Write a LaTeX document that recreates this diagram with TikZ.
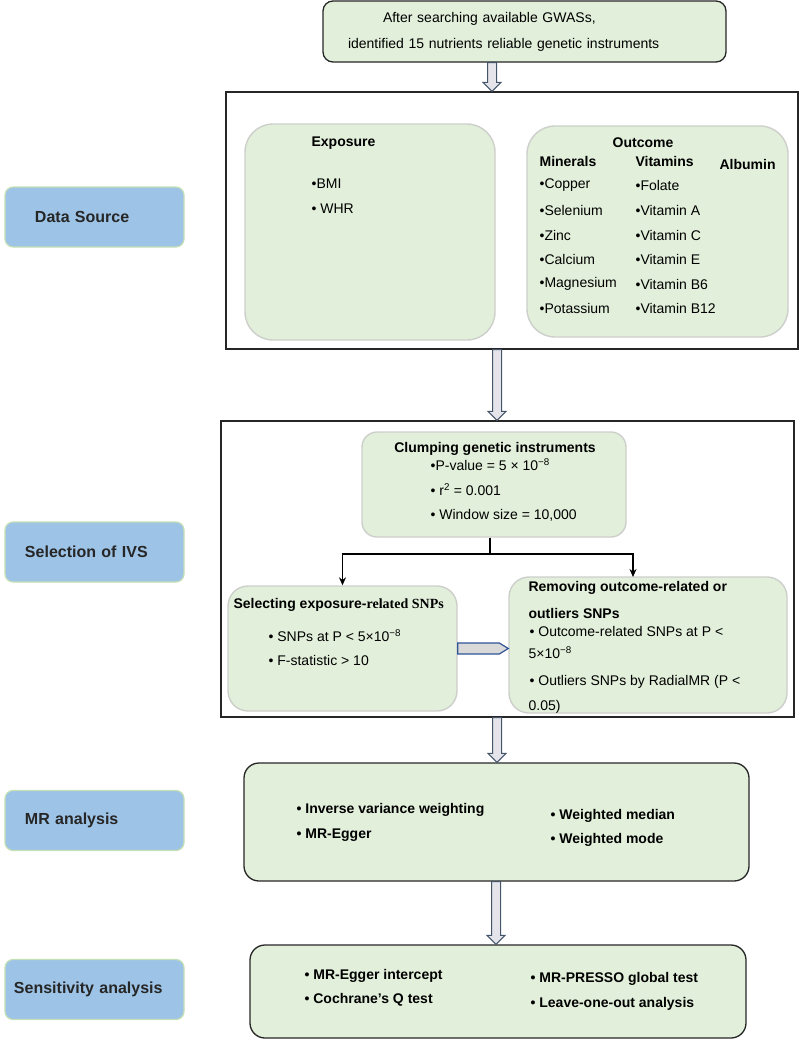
\documentclass[tikz,border=0pt]{standalone}
\usepackage{fontspec}
\setmainfont{Liberation Sans}
\newfontfamily\serifpart{Liberation Serif}
\usetikzlibrary{arrows.meta,calc}

\definecolor{boxgreen}{HTML}{E2EFDA}
\definecolor{sideblue}{HTML}{9DC3E6}
\definecolor{sideline}{HTML}{C5E0B4}
\definecolor{softline}{HTML}{CDCFCB}
\definecolor{arrowline}{HTML}{44546A}
\definecolor{arrowfill}{HTML}{E4E4EA}
\definecolor{pushline}{HTML}{2F5597}
\definecolor{labeltext}{HTML}{262626}

\newcommand{\fatdown}[2]{%
  \draw [fatarrow] let \p1 = (#1), \p2 = (#2) in
    (\x1-4.5pt,\y1) -- (\x1+4.5pt,\y1) -- (\x1+4.5pt,\y2+9pt) -- (\x1+9pt,\y2+9pt)
    -- (\x1,\y2) -- (\x1-9pt,\y2+9pt) -- (\x1-4.5pt,\y2+9pt) -- cycle;}
\newcommand{\fatright}[2]{%
  \draw [pusharrow] let \p1 = (#1), \p2 = (#2) in
    (\x1,\y1+5.5pt) -- (\x2-9pt,\y1+5.5pt) -- (\x2,\y1) -- (\x2-9pt,\y1-5.5pt)
    -- (\x1,\y1-5.5pt) -- cycle;}

\begin{document}
\begin{tikzpicture}[x = 1pt, y = -1pt, line width = 1.2pt, >={Stealth[length=8pt,width=7pt]},
    every node/.style = {font = \fontsize{14}{17}\selectfont},
    sidebox/.style = {draw = sideline, fill = sideblue, rounded corners = 8pt, minimum width = 179pt,
                      minimum height = 60pt, text width = 179pt, inner xsep = 0pt, align = left,
                      text = labeltext, font = \fontsize{16}{19}\selectfont\bfseries},
    frame/.style = {draw = black!85, line width = 1.4pt},
    softbox/.style = {draw = softline, fill = boxgreen, line width = 1.4pt},
    darkbox/.style = {draw = black!85, fill = boxgreen, line width = 1.3pt},
    item/.style = {anchor = west, inner sep = 0pt},
    head/.style = {anchor = west, inner sep = 0pt, font = \fontsize{14}{17}\selectfont\bfseries},
    fatarrow/.style = {draw = arrowline, fill = arrowfill, line width = 1pt},
    pusharrow/.style = {draw = pushline, fill = black!15, line width = 1.2pt}]
  \useasboundingbox (0, 0) rectangle (800, 1045);

  % step labels on the left
  \node [sidebox] (srcLab) at (94.5, 217) {\hspace*{30pt}Data Source};
  \node [sidebox] (ivsLab) at (94.5, 552) {\hspace*{20pt}Selection of IVS};
  \node [sidebox] (mrLab) at (94.5, 820.5) {\hspace*{20pt}MR analysis};
  \node [sidebox] (sensLab) at (94.5, 989.5) {\hspace*{9pt}Sensitivity analysis};

  % search
  \node [darkbox, rounded corners = 10pt, minimum width = 403pt, minimum height = 61pt,
         text width = 353pt, inner xsep = 25pt, align = left, font = \fontsize{14}{26}\selectfont]
        (gwas) at (524.5, 31.5) {\hspace*{35pt}After searching available GWASs,\\identified 15 nutrients reliable genetic instruments};

  % data source
  \node [frame, minimum width = 572pt, minimum height = 257pt] (srcFrame) at (512, 220.5) {};
  \node [softbox, rounded corners = 28pt, minimum width = 250pt, minimum height = 216pt] (expo) at (370, 232) {};
  \node [softbox, rounded corners = 28pt, minimum width = 261pt, minimum height = 211pt] (outc) at (657.5, 231.5) {};
  \node [head] (expoHead) at (311, 143) {Exposure};
  \node [item] (bmi) at (311, 184) {•BMI};
  \node [item] (whr) at (311, 209) {• WHR};
  \node [head, anchor = center] (outcHead) at (643, 143) {Outcome};
  \node [head] (minHead) at (539, 161) {Minerals};
  \node [head] (vitHead) at (635, 161) {Vitamins};
  \node [head] (albHead) at (719, 164) {Albumin};
  \node [item] (copper) at (539, 185) {•Copper};
  \node [item] (selen) at (539, 210) {•Selenium};
  \node [item] (zinc) at (539, 235) {•Zinc};
  \node [item] (calc) at (539, 259) {•Calcium};
  \node [item] (magn) at (539, 284) {•Magnesium};
  \node [item] (potas) at (539, 308) {•Potassium};
  \node [item] (folate) at (635, 185) {•Folate};
  \node [item] (vitA) at (635, 210) {•Vitamin A};
  \node [item] (vitC) at (635, 235) {•Vitamin C};
  \node [item] (vitE) at (635, 259) {•Vitamin E};
  \node [item] (vitBsix) at (635, 284) {•Vitamin B6};
  \node [item] (vitBtw) at (635, 308) {•Vitamin B12};

  % selection of IVs
  \node [frame, minimum width = 573pt, minimum height = 296pt] (ivsFrame) at (507.5, 569) {};
  \node [softbox, rounded corners = 15pt, minimum width = 264pt, minimum height = 105pt] (clump) at (494, 484.5) {};
  \node [head, anchor = center] (clumpHead) at (495, 449) {Clumping genetic instruments};
  \node [item] (pval) at (430, 465) {•P-value = 5 × 10\textsuperscript{−8}};
  \node [item] (rsq) at (430, 490) {• r\textsuperscript{2} = 0.001};
  \node [item] (win) at (430, 515) {• Window size = 10,000};

  \node [softbox, rounded corners = 20pt, minimum width = 229pt, minimum height = 125pt] (sel) at (342.5, 648.5) {};
  \node [softbox, rounded corners = 20pt, minimum width = 278pt, minimum height = 136pt] (rem) at (648, 645) {};
  \node [head] (selHead) at (233, 605) {Selecting exposure-{\serifpart related SNPs}};
  \node [item] (snpP) at (268, 636) {• SNPs at P < 5×10\textsuperscript{−8}};
  \node [item] (fstat) at (268, 660) {• F-statistic > 10};
  \node [head] (remHead) at (528, 588) {Removing outcome-related or};
  \node [head] (remHeadB) at (528, 613) {outliers SNPs};
  \node [item] (outP) at (529, 631) {• Outcome-related SNPs at P <};
  \node [item] (outPb) at (528, 653) {5×10\textsuperscript{−8}};
  \node [item] (radial) at (529, 682) {• Outliers SNPs by RadialMR (P <};
  \node [item] (radialB) at (528, 707) {0.05)};

  \coordinate (split) at (490, 554);
  \coordinate (remIn) at (633, 577);
  \draw (clump.south -| split) -- (split);
  \draw [->] (split) -| (sel.north);
  \draw [->] (split) -| (remIn);
  \fatright{sel.east}{rem.west}

  % MR analysis
  \node [darkbox, rounded corners = 15pt, minimum width = 505pt, minimum height = 118pt] (mr) at (496.5, 822) {};
  \node [head] (ivw) at (296, 810) {• Inverse variance weighting};
  \node [head] (egger) at (296, 835) {• MR-Egger};
  \node [head] (wmed) at (550, 816) {• Weighted median};
  \node [head] (wmode) at (550, 840) {• Weighted mode};

  % sensitivity analysis
  \node [darkbox, rounded corners = 15pt, minimum width = 496pt, minimum height = 93pt] (sens) at (498, 991.5) {};
  \node [head] (intercept) at (304, 976) {• MR-Egger intercept};
  \node [head] (cochran) at (304, 1000) {• Cochrane’s Q test};
  \node [head] (presso) at (530, 979) {• MR-PRESSO global test};
  \node [head] (loo) at (530, 1004) {• Leave-one-out analysis};

  % flow between steps
  \coordinate (arrA) at (492, 0);
  \coordinate (arrB) at (497, 0);
  \coordinate (arrC) at (496, 0);
  \fatdown{gwas.south -| arrA}{srcFrame.north -| arrA}
  \fatdown{srcFrame.south -| arrB}{ivsFrame.north -| arrB}
  \fatdown{ivsFrame.south -| arrB}{mr.north -| arrB}
  \fatdown{mr.south -| arrC}{sens.north -| arrC}
\end{tikzpicture}
\end{document}
